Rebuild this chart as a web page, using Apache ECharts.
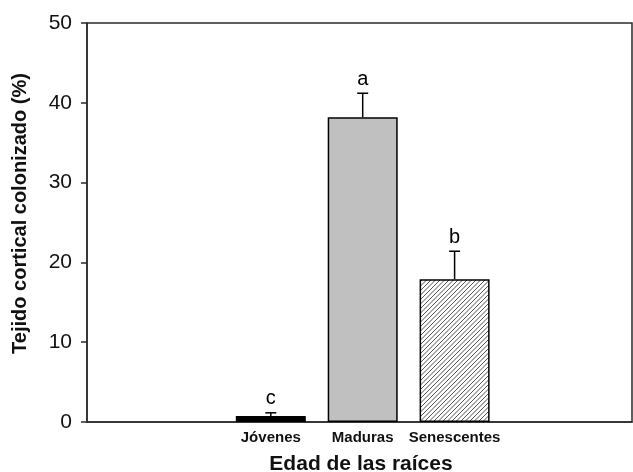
<!DOCTYPE html>
<html>
<head>
<meta charset="utf-8">
<script src="https://cdn.jsdelivr.net/npm/echarts@6/dist/echarts.min.js"></script>
<style>
  html, body { margin: 0; padding: 0; background: #fff; }
  #chart { width: 633px; height: 472px; }
</style>
</head>
<body>
<div id="chart"></div>
<script>
// Root age classes and colonisation of cortical tissue (%)
const categories = ['Jóvenes', 'Maduras', 'Senescentes'];
const meanValues = [0.75, 38.2, 17.9];
const errorValues = [0.4, 3.0, 3.5];
const letters = ['c', 'a', 'b'];
const yTicks = [0, 10, 20, 30, 40, 50];

// Positions of each class on the numeric x scale (1, 2, 3)
const positions = categories.map((_, i) => i + 1);

// Diagonal hatch tile for the third bar (two strokes per 9px tile)
function hatchTile() {
  const s = 9;
  const c = document.createElement('canvas');
  c.width = s; c.height = s;
  const ctx = c.getContext('2d');
  ctx.fillStyle = '#ffffff';
  ctx.fillRect(0, 0, s, s);
  ctx.strokeStyle = '#404040';
  ctx.lineWidth = 0.9;
  ctx.beginPath();
  [-s, -s / 2, 0, s / 2, s].forEach(function (o) {
    ctx.moveTo(o - 1, s + 1);
    ctx.lineTo(o + s + 1, -1);
  });
  ctx.stroke();
  return c;
}

const fills = ['#000000', '#c0c0c0', { image: hatchTile(), repeat: 'repeat' }];

const chart = echarts.init(document.getElementById('chart'), null, { renderer: 'canvas' });

const barData = positions.map((x, i) => ({
  value: [x, meanValues[i]],
  itemStyle: { color: fills[i], borderColor: '#000', borderWidth: 1.5 }
}));

const errData = positions.map((x, i) => [x, meanValues[i], errorValues[i], i]);

chart.setOption({
  animation: false,
  backgroundColor: '#ffffff',
  textStyle: { fontFamily: 'Liberation Sans, Arial, sans-serif', color: '#000' },
  grid: {
    left: 87, top: 23, width: 545, height: 399,
    containLabel: false,
    outerBoundsMode: 'none',
    show: true, borderColor: '#2b2b2b', borderWidth: 1.5, backgroundColor: 'transparent'
  },
  xAxis: {
    type: 'value',
    min: -1,
    max: -1 + 545 / 91.9,
    interval: 1,
    splitLine: { show: false },
    axisTick: { show: false },
    axisLine: { show: true, onZero: false, lineStyle: { color: '#2b2b2b', width: 1.5 } },
    axisLabel: {
      show: true,
      margin: 8,
      fontSize: 15,
      fontWeight: 'bold',
      color: '#111',
      showMaxLabel: false,
      showMinLabel: false,
      formatter: function (v) {
        const idx = positions.indexOf(Math.round(v));
        return (Math.abs(v - Math.round(v)) < 1e-6 && idx >= 0) ? categories[idx] : '';
      }
    },
    name: 'Edad de las raíces',
    nameLocation: 'middle',
    nameGap: 32,
    nameTextStyle: { fontSize: 21, fontWeight: 'bold', color: '#111', padding: [0, 0, 0, 3] }
  },
  yAxis: {
    type: 'value',
    min: yTicks[0],
    max: yTicks[yTicks.length - 1],
    interval: 10,
    splitLine: { show: false },
    axisLine: { show: true, onZero: false, lineStyle: { color: '#2b2b2b', width: 1.5 } },
    axisTick: { show: true, inside: false, length: 6, lineStyle: { color: '#2b2b2b', width: 1.5 } },
    axisLabel: { fontSize: 21, color: '#111', margin: 15 },
    name: 'Tejido cortical colonizado (%)',
    nameLocation: 'middle',
    nameRotate: 90,
    nameGap: 57,
    nameTextStyle: { fontSize: 20, fontWeight: 'bold', color: '#111', padding: [0, 0, 0, 18] }
  },
  series: [
    {
      type: 'bar',
      barWidth: 70,
      data: barData,
      z: 2
    },
    {
      type: 'custom',
      z: 3,
      data: errData,
      renderItem: function (params, api) {
        const x = api.value(0);
        const mean = api.value(1);
        const err = api.value(2);
        const idx = api.value(3);
        const base = api.coord([x, mean]);
        const top = api.coord([x, mean + err]);
        const half = 5.5;
        const style = { stroke: '#000', lineWidth: 1.5 };
        return {
          type: 'group',
          children: [
            { type: 'line', shape: { x1: base[0], y1: base[1], x2: top[0], y2: top[1] }, style: style },
            { type: 'line', shape: { x1: top[0] - half, y1: top[1], x2: top[0] + half, y2: top[1] }, style: style },
            {
              type: 'text',
              style: {
                x: top[0], y: top[1] - 4,
                text: letters[idx],
                align: 'center', verticalAlign: 'bottom',
                fontSize: 20, fontFamily: 'Liberation Sans, Arial, sans-serif', fill: '#000'
              }
            }
          ]
        };
      }
    }
  ]
});
</script>
</body>
</html>
